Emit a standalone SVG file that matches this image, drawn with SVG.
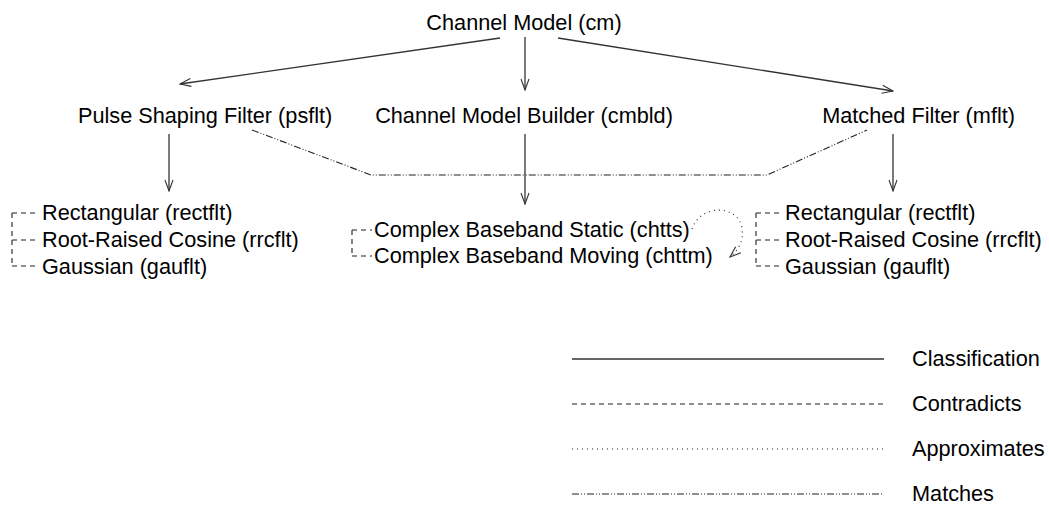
<svg xmlns="http://www.w3.org/2000/svg" width="1049" height="510" viewBox="0 0 1049 510">
<style>
  text { font-family: "Liberation Sans", Arial, sans-serif; font-size: 21.7px; fill: #000; }
  .cls { stroke: #333; stroke-width: 1.3; fill: none; }
  .con { stroke: #222; stroke-width: 1.1; fill: none; stroke-dasharray: 5 4; }
  .apx { stroke: #222; stroke-width: 1.1; fill: none; stroke-dasharray: 1 4; }
  .mat { stroke: #222; stroke-width: 1.1; fill: none; stroke-dasharray: 7 2 1 2 1 2; }
</style>
<defs>
  <marker id="arr" viewBox="-12 -6 13 12" markerWidth="13" markerHeight="12" refX="0" refY="0" orient="auto" markerUnits="userSpaceOnUse">
    <path d="M-11,-4 L0,0 L-11,4" fill="none" stroke="#333" stroke-width="1.1"/>
  </marker>
</defs>
<rect width="1049" height="510" fill="#fff"/>

<g id="connectors">
  <line class="cls" x1="500" y1="38" x2="180" y2="84" marker-end="url(#arr)"/>
  <line class="cls" x1="525" y1="37" x2="525" y2="90" marker-end="url(#arr)"/>
  <line class="cls" x1="558" y1="38" x2="893" y2="91" marker-end="url(#arr)"/>
  <line class="cls" x1="169" y1="134" x2="169" y2="191" marker-end="url(#arr)"/>
  <line class="cls" x1="525" y1="134" x2="525" y2="204" marker-end="url(#arr)"/>
  <line class="cls" x1="893" y1="134" x2="893" y2="191" marker-end="url(#arr)"/>
  <polyline class="mat" points="252,130 371,175 767,175 867,130"/>
  <path class="apx" d="M692,229 C700,204 738,204 742,228 C744,242 738,250 730,257" marker-end="url(#arr)"/>
  <!-- left bracket -->
  <line class="con" x1="12" y1="213" x2="12" y2="266"/>
  <line class="con" x1="12" y1="213" x2="36" y2="213"/>
  <line class="con" x1="12" y1="240" x2="36" y2="240"/>
  <line class="con" x1="12" y1="266" x2="36" y2="266"/>
  <!-- center bracket -->
  <line class="con" x1="352" y1="230" x2="352" y2="256"/>
  <line class="con" x1="352" y1="230" x2="372" y2="230"/>
  <line class="con" x1="352" y1="256" x2="372" y2="256"/>
  <!-- right bracket -->
  <line class="con" x1="756" y1="213" x2="756" y2="266"/>
  <line class="con" x1="756" y1="213" x2="780" y2="213"/>
  <line class="con" x1="756" y1="240" x2="780" y2="240"/>
  <line class="con" x1="756" y1="266" x2="780" y2="266"/>
</g>

<g id="cm"><text x="524" y="30" text-anchor="middle">Channel Model (cm)</text></g>
<g id="psflt"><text x="78" y="123">Pulse Shaping Filter (psflt)</text></g>
<g id="cmbld"><text x="524" y="123" text-anchor="middle">Channel Model Builder (cmbld)</text></g>
<g id="mflt"><text x="1015" y="123" text-anchor="end">Matched Filter (mflt)</text></g>

<g id="rectflt-l"><text x="42" y="220">Rectangular (rectflt)</text></g>
<g id="rrcflt-l"><text x="42" y="247">Root-Raised Cosine (rrcflt)</text></g>
<g id="gauflt-l"><text x="42" y="274">Gaussian (gauflt)</text></g>

<g id="chtts"><text x="374" y="237">Complex Baseband Static (chtts)</text></g>
<g id="chttm"><text x="374" y="263">Complex Baseband Moving (chttm)</text></g>

<g id="rectflt-r"><text x="785" y="220">Rectangular (rectflt)</text></g>
<g id="rrcflt-r"><text x="785" y="247">Root-Raised Cosine (rrcflt)</text></g>
<g id="gauflt-r"><text x="785" y="274">Gaussian (gauflt)</text></g>

<g id="legend">
  <line class="cls" x1="572" y1="359" x2="884" y2="359"/>
  <text x="912" y="366">Classification</text>
  <line class="con" x1="572" y1="404" x2="884" y2="404"/>
  <text x="912" y="411">Contradicts</text>
  <line class="apx" x1="572" y1="449" x2="884" y2="449"/>
  <text x="912" y="456">Approximates</text>
  <line class="mat" x1="572" y1="494" x2="884" y2="494"/>
  <text x="912" y="501">Matches</text>
</g>
</svg>
